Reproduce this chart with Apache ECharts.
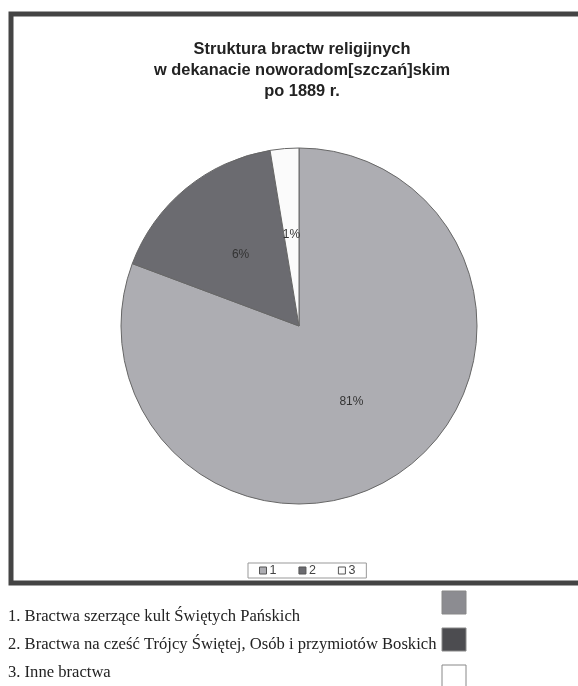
<!DOCTYPE html>
<html><head><meta charset="utf-8">
<script src="https://cdn.jsdelivr.net/npm/echarts@6/dist/echarts.min.js"></script>
<style>html,body{margin:0;padding:0;background:#fff;}#c{width:578px;height:686px;}</style>
</head><body><div id="c"></div>
<script>
const titleLines = ['Struktura bractw religijnych', 'w dekanacie noworadom[szczań]skim', 'po 1889 r.'];
const categories = ['1', '2', '3'];
const values = [80.7, 16.7, 2.6];
const sliceLabels = ['81%', '6%', '1%'];
const descriptions = [
  '1. Bractwa szerzące kult Świętych Pańskich',
  '2. Bractwa na cześć Trójcy Świętej, Osób i przymiotów Boskich',
  '3. Inne bractwa'
];
const sliceColors = ['#adadb2', '#6b6b70', '#fbfbfb'];
const swatchColors = ['#8c8c91', '#4c4c50', '#ffffff'];

const chart = echarts.init(document.getElementById('c'), null, {renderer: 'canvas'});

const graphics = [
  {type: 'rect', shape: {x: 11, y: 14, width: 620, height: 569}, style: {fill: 'none', stroke: '#444', lineWidth: 5}, z: 10}
];
descriptions.forEach((d, i) => {
  graphics.push({type: 'text', left: 8, top: 608 + i * 28, style: {text: d, font: '16.6px "Liberation Serif", serif', fill: '#222'}});
  graphics.push({type: 'rect', shape: {x: 442, y: 591 + i * 37, width: 24, height: 23}, style: {fill: swatchColors[i], stroke: '#888', lineWidth: 1}});
});

chart.setOption({
  animation: false,
  title: {
    text: titleLines.join('\n'),
    left: 297, top: 34, textAlign: 'center',
    textStyle: {fontFamily: 'Liberation Sans, Arial', fontWeight: 'bold', fontSize: 16.4, lineHeight: 21, color: '#222'}
  },
  legend: {
    data: categories,
    left: 248, top: 563,
    orient: 'horizontal',
    icon: 'rect', itemWidth: 7, itemHeight: 7, itemGap: 22,
    padding: [1, 11, 1, 11],
    borderColor: '#999', borderWidth: 1,
    textStyle: {fontFamily: 'Liberation Sans, Arial', fontSize: 12.5, color: '#444', padding: [0, 0, 0, -2]},
    itemStyle: {borderColor: '#555', borderWidth: 1}
  },
  graphic: graphics,
  series: [{
    type: 'pie',
    center: [299, 326],
    radius: 178,
    startAngle: 90,
    clockwise: true,
    data: categories.map((c, i) => ({name: c, value: values[i], itemStyle: {color: sliceColors[i]}})),
    itemStyle: {borderColor: '#666', borderWidth: 1},
    label: {
      position: 'inside',
      formatter: p => sliceLabels[p.dataIndex],
      fontFamily: 'Liberation Sans, Arial', fontSize: 12, color: '#333'
    },
    labelLine: {show: false},
    emphasis: {disabled: true}
  }]
});
</script></body></html>
